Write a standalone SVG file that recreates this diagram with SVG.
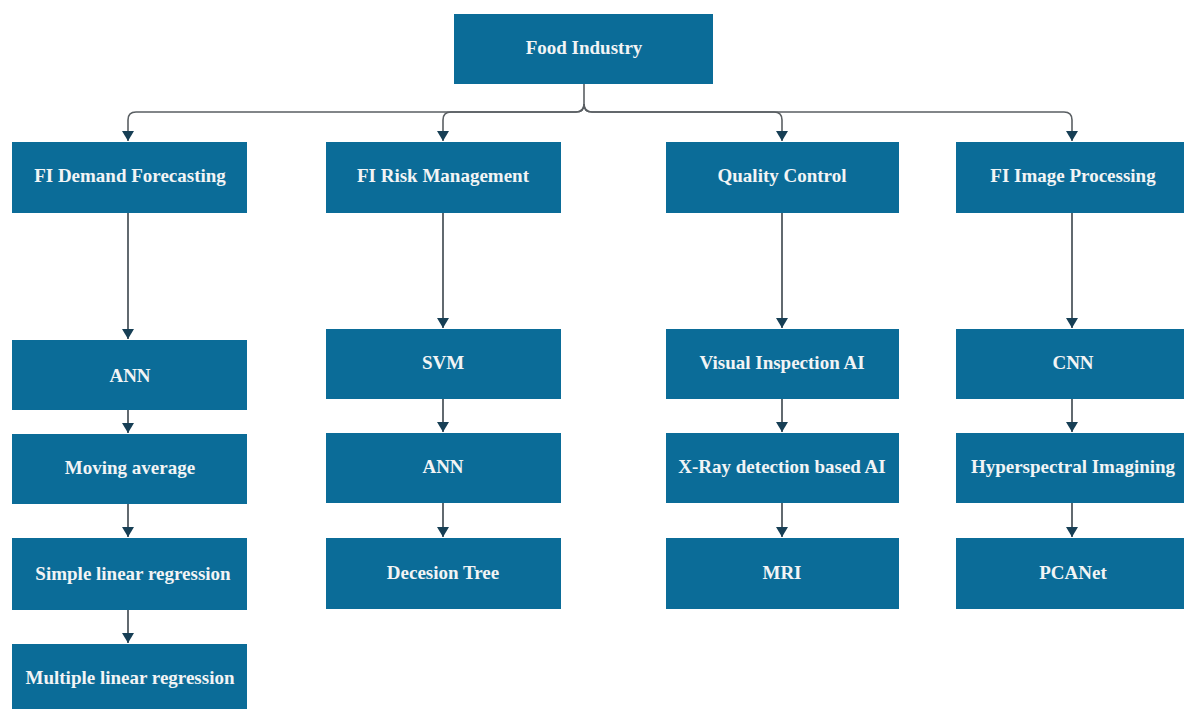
<svg xmlns="http://www.w3.org/2000/svg" width="1184" height="709" viewBox="0 0 1184 709">
<defs>
<style>
.box{fill:#0b6c98;}
.t{font-family:"Liberation Serif","DejaVu Serif",serif;font-size:19px;font-weight:bold;fill:#f2f4f5;text-anchor:middle;dominant-baseline:central;}
.c{fill:none;stroke:#5a5f63;stroke-width:1.6;}
.v{fill:none;stroke:#1f2a33;stroke-width:1.4;}
</style>
<marker id="ah" viewBox="0 0 10 12" refX="10" refY="6" markerWidth="10" markerHeight="12" markerUnits="userSpaceOnUse" orient="auto">
<path d="M0,0 L10,6 L0,12 Z" fill="#173f55"/>
</marker>
</defs>
<rect width="1184" height="709" fill="#ffffff"/>
<g id="connectors">
<path class="c" d="M584,84 V104 Q584,112 576,112 H136 Q128,112 128,120 V141" marker-end="url(#ah)"/>
<path class="c" d="M584,104 Q584,112 576,112 H451 Q443,112 443,120 V141" marker-end="url(#ah)"/>
<path class="c" d="M584,104 Q584,112 592,112 H774 Q782,112 782,120 V141" marker-end="url(#ah)"/>
<path class="c" d="M584,104 Q584,112 592,112 H1064 Q1072,112 1072,120 V141" marker-end="url(#ah)"/>
<path class="v" d="M128,213 V339" marker-end="url(#ah)"/>
<path class="v" d="M128,410 V433" marker-end="url(#ah)"/>
<path class="v" d="M128,504 V537" marker-end="url(#ah)"/>
<path class="v" d="M128,610 V643" marker-end="url(#ah)"/>
<path class="v" d="M443,213 V328" marker-end="url(#ah)"/>
<path class="v" d="M443,399 V432" marker-end="url(#ah)"/>
<path class="v" d="M443,503 V537" marker-end="url(#ah)"/>
<path class="v" d="M782,213 V328" marker-end="url(#ah)"/>
<path class="v" d="M782,399 V432" marker-end="url(#ah)"/>
<path class="v" d="M782,503 V537" marker-end="url(#ah)"/>
<path class="v" d="M1072,213 V328" marker-end="url(#ah)"/>
<path class="v" d="M1072,399 V432" marker-end="url(#ah)"/>
<path class="v" d="M1072,503 V537" marker-end="url(#ah)"/>
</g>
<g id="n-food"><rect class="box" x="454" y="14" width="259" height="70"/><text class="t" x="584" y="47">Food Industry</text></g>
<g id="n-demand"><rect class="box" x="12" y="142" width="235" height="71"/><text class="t" x="130" y="175">FI Demand Forecasting</text></g>
<g id="n-risk"><rect class="box" x="326" y="142" width="235" height="71"/><text class="t" x="443" y="175">FI Risk Management</text></g>
<g id="n-quality"><rect class="box" x="666" y="142" width="233" height="71"/><text class="t" x="782" y="175">Quality Control</text></g>
<g id="n-image"><rect class="box" x="956" y="142" width="234" height="71"/><text class="t" x="1073" y="175">FI Image Processing</text></g>
<g id="n-ann1"><rect class="box" x="12" y="340" width="235" height="70"/><text class="t" x="130" y="375">ANN</text></g>
<g id="n-mavg"><rect class="box" x="12" y="434" width="235" height="70"/><text class="t" x="130" y="467">Moving average</text></g>
<g id="n-slr"><rect class="box" x="12" y="538" width="235" height="72"/><text class="t" x="133" y="573">Simple linear regression</text></g>
<g id="n-mlr"><rect class="box" x="12" y="644" width="235" height="70"/><text class="t" x="130" y="677">Multiple linear regression</text></g>
<g id="n-svm"><rect class="box" x="326" y="329" width="235" height="70"/><text class="t" x="443" y="362">SVM</text></g>
<g id="n-ann2"><rect class="box" x="326" y="433" width="235" height="70"/><text class="t" x="443" y="466">ANN</text></g>
<g id="n-dtree"><rect class="box" x="326" y="538" width="235" height="71"/><text class="t" x="443" y="572">Decesion Tree</text></g>
<g id="n-visual"><rect class="box" x="666" y="329" width="233" height="70"/><text class="t" x="782" y="362">Visual Inspection AI</text></g>
<g id="n-xray"><rect class="box" x="666" y="433" width="233" height="70"/><text class="t" x="782" y="466">X-Ray detection based AI</text></g>
<g id="n-mri"><rect class="box" x="666" y="538" width="233" height="71"/><text class="t" x="782" y="572">MRI</text></g>
<g id="n-cnn"><rect class="box" x="956" y="329" width="234" height="70"/><text class="t" x="1073" y="362">CNN</text></g>
<g id="n-hyper"><rect class="box" x="956" y="433" width="234" height="70"/><text class="t" x="1073" y="466">Hyperspectral Imagining</text></g>
<g id="n-pca"><rect class="box" x="956" y="538" width="234" height="71"/><text class="t" x="1073" y="572">PCANet</text></g>
</svg>
